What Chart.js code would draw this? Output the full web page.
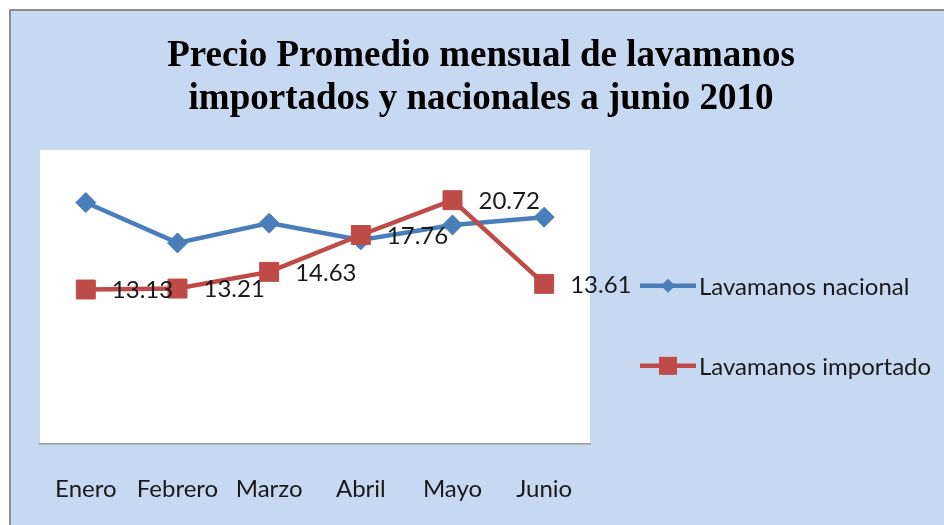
<!DOCTYPE html>
<html>
<head>
<meta charset="utf-8">
<title>Precio promedio de lavamanos</title>
<style>
  html, body { margin: 0; padding: 0; background: #fff; }
  canvas { display: block; }
</style>
</head>
<body>
<canvas id="grafico" width="944" height="525"></canvas>
<script src="https://cdn.jsdelivr.net/npm/chart.js@4/dist/chart.umd.min.js"></script>
<script>
const meses = ['Enero', 'Febrero', 'Marzo', 'Abril', 'Mayo', 'Junio'];
const nacional = [20.52, 17.09, 18.77, 17.35, 18.62, 19.28];
const importado = [13.13, 13.21, 14.63, 17.76, 20.72, 13.61];
const titulo = ['Precio Promedio mensual de lavamanos', 'importados y nacionales a junio 2010'];
const series = ['Lavamanos nacional', 'Lavamanos importado'];

const AZUL = '#4A7EBB';
const ROJO = '#BE4B48';
const CELESTE = '#C6D9F1';
const LETRA = 'Lato, "Open Sans", sans-serif';
const TAM = 24;

// panel celeste con marco gris y área de trazado blanca
const fondo = {
  id: 'fondo',
  beforeDraw(chart) {
    const { ctx, chartArea: a, width, height } = chart;
    ctx.save();
    ctx.fillStyle = '#fff';
    ctx.fillRect(0, 0, width, height);
    ctx.fillStyle = CELESTE;
    ctx.fillRect(10, 10, width - 10, height - 10);
    ctx.strokeStyle = '#8C8C8C';
    ctx.lineWidth = 2;
    ctx.beginPath();
    ctx.moveTo(10, height);
    ctx.lineTo(10, 10);
    ctx.lineTo(width, 10);
    ctx.stroke();
    ctx.fillStyle = '#fff';
    ctx.fillRect(a.left, a.top, a.right - a.left, a.bottom - a.top);
    ctx.restore();
  }
};

// valores a la derecha de cada punto de la serie importada
const valores = {
  id: 'valores',
  afterDatasetsDraw(chart) {
    const { ctx } = chart;
    const meta = chart.getDatasetMeta(1);
    ctx.save();
    ctx.font = TAM + 'px ' + LETRA;
    ctx.fillStyle = '#1A1A1A';
    ctx.textAlign = 'left';
    ctx.textBaseline = 'middle';
    meta.data.forEach((p, i) => {
      ctx.fillText(importado[i].toFixed(2), p.x + 26, p.y + 1);
    });
    ctx.restore();
  }
};

function marcador(ctx, estilo, x, y, r) {
  ctx.beginPath();
  if (estilo === 'rectRot') {
    ctx.moveTo(x - r, y);
    ctx.lineTo(x, y - r);
    ctx.lineTo(x + r, y);
    ctx.lineTo(x, y + r);
  } else {
    ctx.rect(x - r, y - r, 2 * r, 2 * r);
  }
  ctx.closePath();
  ctx.fill();
}

// leyenda: línea con marcador y nombre de la serie
const leyenda = {
  id: 'leyenda',
  afterDraw(chart) {
    const { ctx, chartArea: a } = chart;
    const x0 = a.right + 50;
    const x1 = a.right + 106;
    chart.data.datasets.forEach((ds, i) => {
      const y = a.top + 136 + i * 80;
      ctx.save();
      ctx.strokeStyle = ds.borderColor;
      ctx.fillStyle = ds.backgroundColor;
      ctx.lineWidth = 4.5;
      ctx.beginPath();
      ctx.moveTo(x0, y);
      ctx.lineTo(x1, y);
      ctx.stroke();
      marcador(ctx, ds.pointStyle, (x0 + x1) / 2, y, i === 0 ? 7 : 9);
      ctx.font = TAM + 'px ' + LETRA;
      ctx.fillStyle = '#1A1A1A';
      ctx.textBaseline = 'middle';
      ctx.fillText(ds.label, x1 + 3, y + 1);
      ctx.restore();
    });
  }
};

new Chart(document.getElementById('grafico'), {
  type: 'line',
  data: {
    labels: meses,
    datasets: [{
      label: series[0],
      data: nacional,
      borderColor: AZUL,
      backgroundColor: AZUL,
      borderWidth: 4.5,
      pointStyle: 'rectRot',
      pointRadius: 10,
      pointBorderWidth: 1,
      order: 2
    }, {
      label: series[1],
      data: importado,
      borderColor: ROJO,
      backgroundColor: ROJO,
      borderWidth: 4.5,
      pointStyle: 'rect',
      pointRadius: 13.4,
      pointBorderWidth: 1,
      order: 1
    }]
  },
  options: {
    responsive: false,
    animation: false,
    events: [],
    layout: { padding: { left: 18, right: 0, top: 0, bottom: 0 } },
    plugins: {
      legend: { display: false },
      tooltip: { enabled: false },
      title: {
        display: true,
        text: titulo,
        color: '#000',
        font: { family: '"Liberation Serif", "Times New Roman", serif', size: 37, weight: 'bold', lineHeight: 1.16 },
        padding: { top: 35, bottom: 29 }
      }
    },
    scales: {
      x: {
        offset: true,
        grid: { display: false },
        border: { color: '#9A9A9A', width: 1.5 },
        ticks: { color: '#1A1A1A', font: { family: LETRA, size: TAM }, padding: 23, maxRotation: 0, autoSkip: false },
        afterFit(s) { s.height = 81; }
      },
      y: {
        min: 0,
        max: 25,
        grid: { display: false },
        border: { display: false },
        ticks: { display: false },
        afterFit(s) { s.width = 22; }
      },
      derecha: {
        type: 'linear',
        position: 'right',
        grid: { display: false },
        border: { display: false },
        ticks: { display: false },
        afterFit(s) { s.width = 354; }
      }
    }
  },
  plugins: [fondo, valores, leyenda]
});
</script>
</body>
</html>
